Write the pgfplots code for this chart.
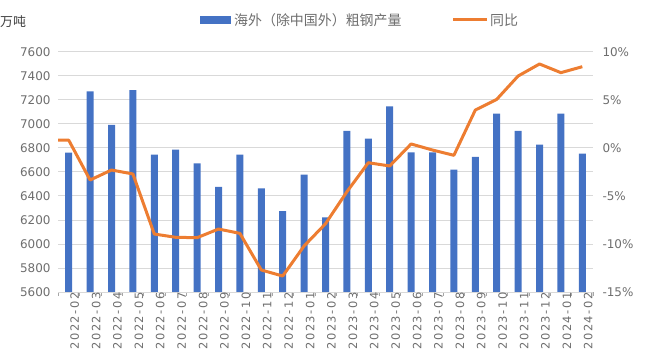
\documentclass[border=0pt]{standalone}
\usepackage{fontspec}
\setmainfont{DejaVu Sans}
\newfontfamily\cjk{Noto Sans CJK SC}
\newfontfamily\wide[LetterSpace=14]{DejaVu Sans}
\usepackage{pgfplots}
\pgfplotsset{compat=1.18}
\definecolor{barblue}{HTML}{4472C4}
\definecolor{lineorange}{HTML}{ED7D31}
\definecolor{txtgray}{HTML}{6E6E6E}
\definecolor{gridgray}{HTML}{D9D9D9}
\begin{document}
\begin{tikzpicture}
\path[use as bounding box] (0,0) rectangle (645bp,364bp);
\begin{axis}[
  at={(58bp,72bp)}, anchor=south west,
  scale only axis, width=535bp, height=240.3bp,
  xmin=-0.5, xmax=24.5, ymin=5600, ymax=7600,
  ytick={5600,5800,...,7600},
  xtick={0,...,24},
  xticklabels={2022-02,2022-03,2022-04,2022-05,2022-06,2022-07,2022-08,2022-09,2022-10,2022-11,2022-12,2023-01,2023-02,2023-03,2023-04,2023-05,2023-06,2023-07,2023-08,2023-09,2023-10,2023-11,2023-12,2024-01,2024-02},
  minor xtick={-0.5,0.5,...,24.5},
  major tick length=0pt, minor tick length=4bp,
  tick align=outside,
  xtick pos=bottom, ytick pos=left,
  minor tick style={black!35, line width=0.6bp},
  separate axis lines,
  axis x line*=bottom,
  x axis line style={-, draw=gridgray, line width=0.8bp},
  y axis line style={draw=none},
  axis y line*=left,
  ymajorgrids, grid style={gridgray, line width=0.8bp},
  /pgf/number format/assume math mode=true,
  /pgf/number format/set thousands separator={},
  tick label style={font=\fontsize{12}{14}\selectfont, text=txtgray},
  yticklabel style={xshift=-4bp},
  xticklabel style={rotate=90, anchor=east, inner sep=0pt, yshift=-6bp, font=\wide\fontsize{11.5}{14}\selectfont},
]
\addplot[ybar, bar width=7bp, fill=barblue, draw=none] coordinates {
(0,6760) (1,7270) (2,6992) (3,7281) (4,6743) (5,6784) (6,6671) (7,6474) (8,6743) (9,6463)
(10,6274) (11,6576) (12,6222) (13,6940) (14,6876) (15,7145) (16,6763) (17,6763) (18,6618)
(19,6724) (20,7084) (21,6940) (22,6826) (23,7084) (24,6751)};
\end{axis}
\begin{axis}[
  at={(58bp,72bp)}, anchor=south west,
  scale only axis, width=535bp, height=240.3bp,
  xmin=-0.5, xmax=24.5, ymin=-15, ymax=10,
  ytick={-15,-10,...,10},
  hide x axis,
  axis y line*=right,
  y axis line style={draw=none},
  major tick length=0pt,
  /pgf/number format/assume math mode=true,
  yticklabel={\pgfmathprintnumber{\tick}\%},
  tick label style={font=\fontsize{12}{14}\selectfont, text=txtgray},
  yticklabel style={xshift=6bp},
]
\addplot[lineorange, line width=3bp, line join=round, mark=none] coordinates {
(-0.5,0.8) (0,0.8) (1,-3.35) (2,-2.31) (3,-2.72) (4,-8.97) (5,-9.31) (6,-9.35) (7,-8.45)
(8,-8.9) (9,-12.71) (10,-13.34) (11,-10.21) (12,-7.9) (13,-4.57) (14,-1.55) (15,-1.89)
(16,0.4) (17,-0.23) (18,-0.78) (19,3.93) (20,5.04) (21,7.47) (22,8.72) (23,7.82) (24,8.44)};
\end{axis}
\node[anchor=west, inner sep=0pt, text=black!75] at (0bp,342bp) {\cjk\fontsize{13}{15}\selectfont 万吨};
\fill[barblue] (200bp,340bp) rectangle (231bp,348bp);
\node[anchor=west, inner sep=0pt, text=txtgray] at (234bp,344bp) {\cjk\fontsize{14}{16}\selectfont 海外（除中国外）粗钢产量};
\draw[lineorange, line width=3bp] (453bp,344bp) -- (487bp,344bp);
\node[anchor=west, inner sep=0pt, text=txtgray] at (490bp,344bp) {\cjk\fontsize{14}{16}\selectfont 同比};
\end{tikzpicture}
\end{document}
